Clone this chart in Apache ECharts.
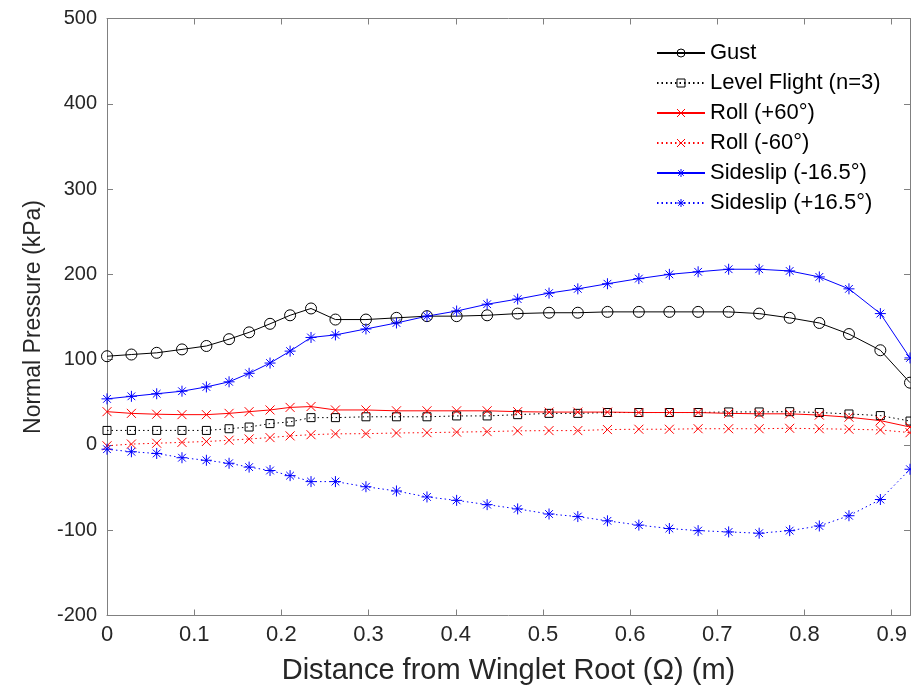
<!DOCTYPE html>
<html><head><meta charset="utf-8">
<script src="https://cdn.jsdelivr.net/npm/echarts@6/dist/echarts.min.js"></script>
<style>html,body{margin:0;padding:0;background:#fff}#c{width:911px;height:693px}</style>
</head><body><div id="c"></div>
<script>
const xValues = [0, 0.028, 0.057, 0.086, 0.114, 0.140, 0.163, 0.187, 0.210, 0.234, 0.262, 0.297, 0.332, 0.367, 0.401, 0.436, 0.471, 0.507, 0.540, 0.574, 0.610, 0.645, 0.678, 0.713, 0.748, 0.783, 0.817, 0.851, 0.887, 0.921];
const gust = [104, 106, 108, 112, 116, 124, 132, 142, 152, 160, 147, 147, 149, 151, 151, 152, 154, 155, 155, 156, 156, 156, 156, 156, 154, 149, 143, 130, 111, 73];
const levelFlight = [17, 17, 17, 17, 17, 19, 21, 25, 27, 32, 32, 33, 33, 33, 34, 34, 35.5, 37, 37, 38, 38, 38, 38, 38.7, 38.7, 39, 38, 36.3, 34.4, 28];
const rollPos60 = [39, 37, 36, 35.5, 35.5, 37, 39, 41, 44, 45, 41, 41, 40, 40, 40, 40, 39, 38.5, 38.5, 38.5, 38, 38, 38, 37, 36.5, 36.5, 35, 32.5, 28.5, 21];
const rollNeg60 = [-1, 1, 2, 3, 4, 5.5, 7, 8.6, 10.6, 12, 13, 13.2, 14, 14.4, 15, 15.6, 16.5, 16.8, 16.8, 18, 18.4, 18.4, 19, 19, 19, 19.5, 19, 18.4, 17.6, 14.4];
const sideslipNeg = [54, 57, 60, 63, 68, 74, 84, 96, 110, 126, 129, 136, 143, 151, 157, 165, 171, 178, 183, 189, 195, 200, 203, 206, 206, 204, 197, 183, 154, 102];
const sideslipPos = [-5, -8, -10, -15, -18, -21.5, -26, -30, -36, -43, -43, -49, -54, -61, -65, -70, -75, -81, -84, -89, -94, -98, -100.5, -102, -103.5, -100.5, -95, -83, -64, -28.5];
const seriesNames = ['Gust', 'Level Flight (n=3)', 'Roll (+60°)', 'Roll (-60°)', 'Sideslip (-16.5°)', 'Sideslip (+16.5°)'];
const xTicks = [0, 0.1, 0.2, 0.3, 0.4, 0.5, 0.6, 0.7, 0.8, 0.9];

const X_PATH = 'path://M0,0L10,10M10,0L0,10';
const STAR_PATH = 'path://M5,0L5,10M0,5L10,5M1.5,1.5L8.5,8.5M8.5,1.5L1.5,8.5';
const SQ_PATH = 'path://M0,0L10,0L10,10L0,10Z';

function pairs(ys){ return xValues.map((x,i)=>[x, ys[i]]); }
function mk(name, ys, color, dashed, symbol, size){
  return {
    name, type:'line', data: pairs(ys), symbol, symbolSize: size, showAllSymbol:true,
    lineStyle:{color, width:1, type: dashed ? [1.5,3] : 'solid'},
    itemStyle:{color:'rgba(0,0,0,0)', borderColor: color, borderWidth:1},
    emphasis:{disabled:true}, animation:false
  };
}
const TXT = '#262626', AX = '#808080', FONT = 'Liberation Sans, Arial, sans-serif';
const chart = echarts.init(document.getElementById('c'), null, {renderer:'canvas'});
chart.setOption({
  backgroundColor:'#fff',
  animation:false,
  grid:{left:107, right:1, top:18.5, bottom:77.5, containLabel:false},
  legend:{
    orient:'vertical', left:651, top:37, itemGap:8, itemWidth:48, itemHeight:10,
    itemStyle:{color:'rgba(0,0,0,0)', borderWidth:1},
    textStyle:{fontFamily:FONT, fontSize:22, color:'#000', padding:[0,0,0,0]},
    data: seriesNames
  },
  xAxis:[{
    type:'value', min:0, max:0.921, interval:0.1, position:'bottom',
    axisLine:{show:true, onZero:false, lineStyle:{color:AX, width:1}},
    axisTick:{show:true, inside:true, length:6, lineStyle:{color:AX}},
    axisLabel:{color:TXT, fontSize:22, fontFamily:FONT, margin:8, showMaxLabel:false,
      formatter:v=> xTicks.some(t=>Math.abs(t-v)<1e-9) ? String(+v.toFixed(1)) : ''},
    splitLine:{show:false},
    name:'Distance from Winglet Root (Ω) (m)', nameLocation:'middle', nameGap:41,
    nameTextStyle:{color:TXT, fontSize:29, fontFamily:FONT}
  },{
    type:'value', min:0, max:0.921, interval:0.1, position:'top',
    axisLine:{show:true, onZero:false, lineStyle:{color:AX, width:1}},
    axisTick:{show:true, inside:true, length:6, lineStyle:{color:AX}},
    axisLabel:{show:false}, splitLine:{show:false}
  }],
  yAxis:[{
    type:'value', min:-200, max:500, interval:100, position:'left',
    axisLine:{show:true, onZero:false, lineStyle:{color:AX, width:1}},
    axisTick:{show:true, inside:true, length:6, lineStyle:{color:AX}},
    axisLabel:{color:TXT, fontSize:20, fontFamily:FONT, margin:10},
    splitLine:{show:false},
    name:'Normal Pressure (kPa)', nameLocation:'middle', nameGap:62,
    nameTextStyle:{color:TXT, fontSize:23, fontFamily:FONT}
  },{
    type:'value', min:-200, max:500, interval:100, position:'right',
    axisLine:{show:true, onZero:false, lineStyle:{color:AX, width:1}},
    axisTick:{show:true, inside:true, length:6, lineStyle:{color:AX}},
    axisLabel:{show:false}, splitLine:{show:false}
  }],
  series:[
    mk(seriesNames[0], gust, '#000000', false, 'circle', 11),
    mk(seriesNames[1], levelFlight, '#000000', true, SQ_PATH, 8),
    mk(seriesNames[2], rollPos60, '#ff0000', false, X_PATH, 9),
    mk(seriesNames[3], rollNeg60, '#ff0000', true, X_PATH, 9),
    mk(seriesNames[4], sideslipNeg, '#0000ff', false, STAR_PATH, 11),
    mk(seriesNames[5], sideslipPos, '#0000ff', true, STAR_PATH, 11)
  ]
});
</script></body></html>
